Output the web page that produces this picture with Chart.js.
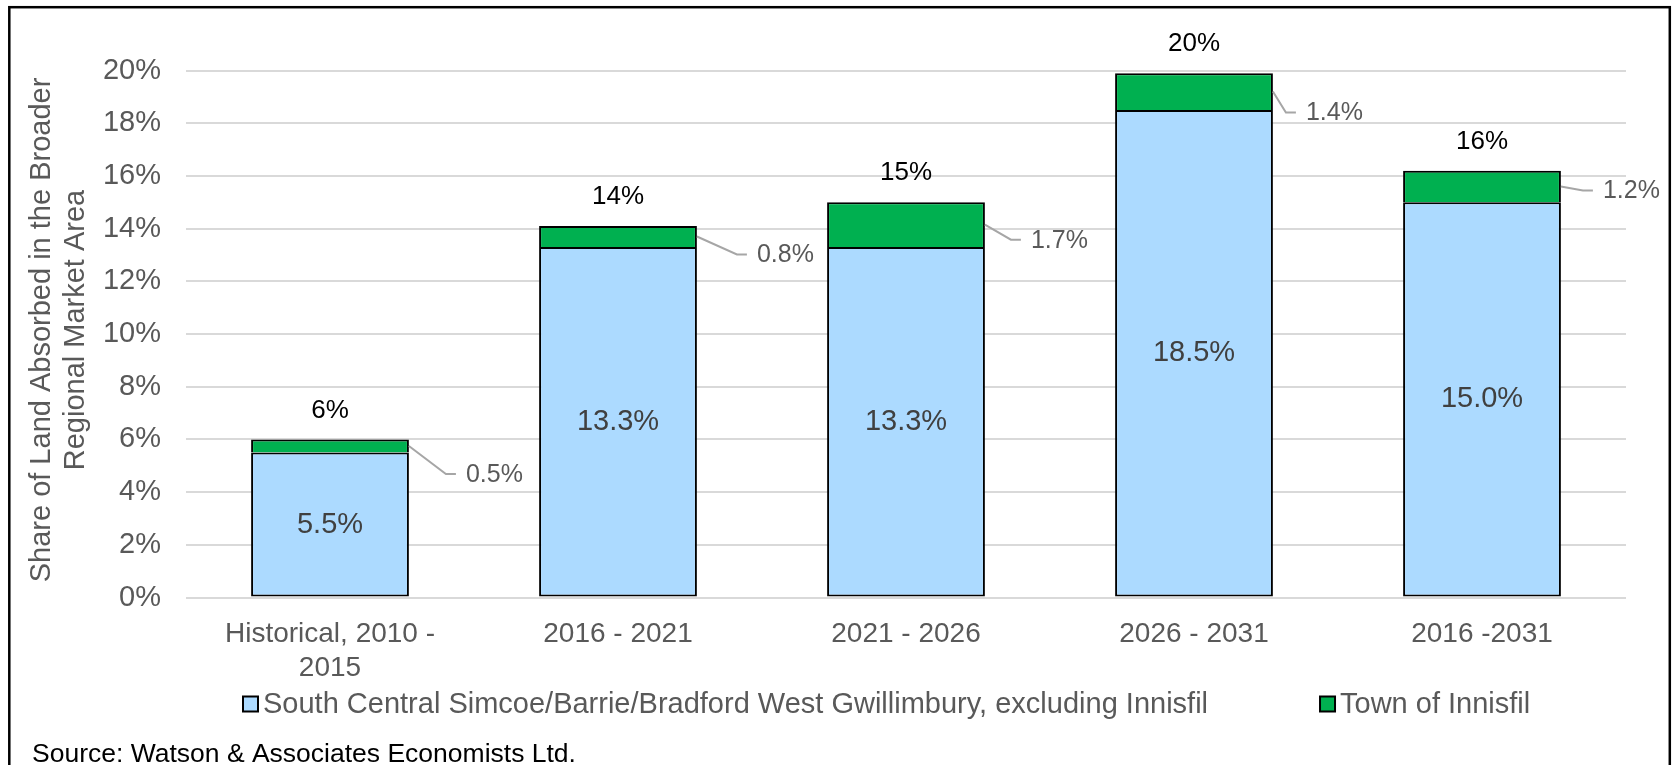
<!DOCTYPE html>
<html>
<head>
<meta charset="utf-8">
<title>Share of Land Absorbed in the Broader Regional Market Area</title>
<script src="https://cdn.jsdelivr.net/npm/chart.js@4.4.1/dist/chart.umd.min.js"></script>
<style>
  html, body { margin: 0; padding: 0; background: #fff; }
  canvas { display: block; }
</style>
</head>
<body>
<canvas id="land" width="1672" height="765"></canvas>
<script>
var periods = [['Historical, 2010 -', '2015'], '2016 - 2021', '2021 - 2026', '2026 - 2031', '2016 -2031'];
var southCentral = [5.5, 13.3, 13.3, 18.5, 15.0];
var innisfil = [0.5, 0.8, 1.7, 1.4, 1.2];
var yTicks = [0, 2, 4, 6, 8, 10, 12, 14, 16, 18, 20];
var seriesNames = ['South Central Simcoe/Barrie/Bradford West Gwillimbury, excluding Innisfil', 'Town of Innisfil'];
var axisTitle = ['Share of Land Absorbed in the Broader', 'Regional Market Area'];
var sourceNote = 'Source: Watson & Associates Economists Ltd.';

// callout placement for the Innisfil values: [dx from bar edge, dy from segment middle]
var calloutOffset = [[57, 29], [60, 19], [46, 16], [33, 22], [42, 5]];

var FONT = '"Liberation Sans", Arial, sans-serif';
var BLUE = '#acdaff';
var GREEN = '#00b050';
Chart.defaults.font.family = FONT;

var labelsPlugin = {
    id: 'labels',
    beforeDraw: function (chart) {
        var ctx = chart.ctx;
        ctx.save();
        ctx.fillStyle = '#fff';
        ctx.fillRect(0, 0, chart.width, chart.height);
        ctx.restore();
    },
    afterDatasetsDraw: function (chart) {
        var ctx = chart.ctx;
        var low = chart.getDatasetMeta(0).data;
        var high = chart.getDatasetMeta(1).data;
        ctx.save();
        for (var i = 0; i < low.length; i++) {
            var a = low[i], b = high[i];
            // value inside the blue segment
            ctx.font = '29px ' + FONT;
            ctx.fillStyle = '#404040';
            ctx.textAlign = 'center';
            ctx.textBaseline = 'middle';
            ctx.fillText(southCentral[i].toFixed(1) + '%', a.x, (a.y + a.base) / 2);
            // total on top of the stack
            ctx.font = '26px ' + FONT;
            ctx.fillStyle = '#000';
            ctx.fillText(Math.round(southCentral[i] + innisfil[i]) + '%', b.x, b.y - 29);
            // Innisfil value with its leader line
            var x0 = b.x + b.width / 2, y0 = (b.y + b.base) / 2;
            var tx = x0 + calloutOffset[i][0], ty = y0 + calloutOffset[i][1];
            ctx.strokeStyle = '#a6a6a6';
            ctx.lineWidth = 2;
            ctx.beginPath();
            ctx.moveTo(x0, y0);
            ctx.lineTo(tx - 20, ty - 1);
            ctx.lineTo(tx - 10, ty - 1);
            ctx.stroke();
            ctx.font = '25px ' + FONT;
            ctx.fillStyle = '#595959';
            ctx.textAlign = 'left';
            ctx.fillText(innisfil[i].toFixed(1) + '%', tx, ty);
        }
        ctx.restore();
    },
    afterDraw: function (chart) {
        var ctx = chart.ctx;
        var area = chart.chartArea;
        ctx.save();

        // y axis title, two rotated lines
        ctx.font = '29px ' + FONT;
        ctx.fillStyle = '#595959';
        ctx.textAlign = 'center';
        ctx.textBaseline = 'alphabetic';
        var cy = 330;
        [50, 83.5].forEach(function (bx, k) {
            ctx.save();
            ctx.translate(bx, cy);
            ctx.rotate(-Math.PI / 2);
            ctx.fillText(axisTitle[k], 0, 0);
            ctx.restore();
        });

        // legend
        var colors = [BLUE, GREEN];
        var x = area.left + 56;
        ctx.font = '29px ' + FONT;
        ctx.textAlign = 'left';
        seriesNames.forEach(function (name, k) {
            ctx.fillStyle = colors[k];
            ctx.fillRect(x + 1, 696.5, 15, 15);
            ctx.strokeStyle = '#000';
            ctx.lineWidth = 2;
            ctx.strokeRect(x + 1, 696.5, 15, 15);
            ctx.fillStyle = '#595959';
            ctx.fillText(name, x + 21, 713);
            x += 21 + ctx.measureText(name).width + 111;
        });

        // source line
        ctx.font = '26.5px ' + FONT;
        ctx.fillStyle = '#000';
        ctx.fillText(sourceNote, 32, 761.5);

        // outer frame
        ctx.strokeStyle = '#000';
        ctx.lineWidth = 2.5;
        ctx.strokeRect(9.3, 7.2, 1660.5, 765);
        ctx.restore();
    }
};

var chart = new Chart(document.getElementById('land').getContext('2d'), {
    type: 'bar',
    data: {
        labels: periods,
        datasets: [{
                label: seriesNames[0],
                data: southCentral,
                backgroundColor: BLUE,
                borderColor: '#000',
                borderWidth: 2,
                borderSkipped: false
            },
            {
                label: seriesNames[1],
                data: innisfil,
                backgroundColor: GREEN,
                borderColor: '#000',
                borderWidth: 2,
                borderSkipped: 'bottom'
            }
        ]
    },
    options: {
        responsive: false,
        animation: false,
        devicePixelRatio: 1,
        layout: { padding: { left: 0, right: 46, top: 70.5, bottom: 67.5 } },
        datasets: { bar: { categoryPercentage: 1, barPercentage: 0.548 } },
        plugins: {
            legend: { display: false },
            tooltip: { enabled: false }
        },
        scales: {
            x: {
                stacked: true,
                grid: { display: false, drawTicks: false },
                border: { display: false },
                ticks: {
                    color: '#595959',
                    font: { size: 28 },
                    padding: 20,
                    maxRotation: 0,
                    autoSkip: false
                },
                afterFit: function (s) { s.height = 100; }
            },
            y: {
                stacked: true,
                min: 0,
                max: 20,
                afterBuildTicks: function (s) {
                    s.ticks = yTicks.map(function (v) { return { value: v }; });
                },
                ticks: {
                    color: '#595959',
                    font: { size: 29 },
                    padding: 25,
                    callback: function (v) { return v + '%'; }
                },
                grid: { color: '#d9d9d9', lineWidth: 2, drawTicks: false },
                border: { display: false },
                afterFit: function (s) { s.width = 186; }
            }
        }
    },
    plugins: [labelsPlugin]
});
</script>
</body>
</html>
